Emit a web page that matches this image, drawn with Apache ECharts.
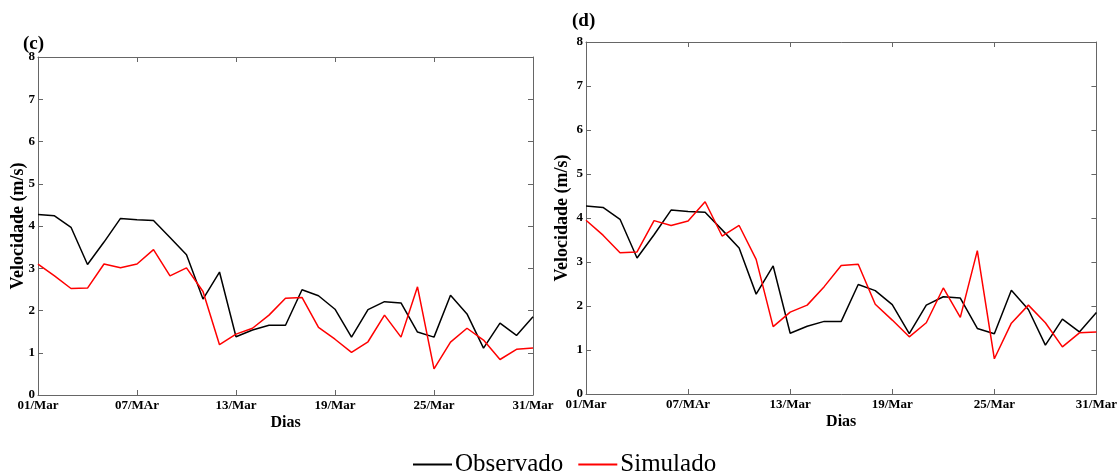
<!DOCTYPE html>
<html>
<head>
<meta charset="utf-8">
<script src="https://cdn.jsdelivr.net/npm/echarts@6/dist/echarts.min.js"></script>
<style>html,body{margin:0;padding:0;background:#fff}#c{width:1120px;height:472px}</style>
</head>
<body>
<div id="c"></div>
<script>
const days = ["01/Mar","02/Mar","03/Mar","04/Mar","05/Mar","06/Mar","07/MAr","08/Mar","09/Mar","10/Mar",
"11/Mar","12/Mar","13/Mar","14/Mar","15/Mar","16/Mar","17/Mar","18/Mar","19/Mar","20/Mar",
"21/Mar","22/Mar","23/Mar","24/Mar","25/Mar","26/Mar","27/Mar","28/Mar","29/Mar","30/Mar","31/Mar"];
const observado = [4.27,4.24,3.97,3.09,3.62,4.18,4.15,4.13,3.73,3.32,2.27,2.91,1.38,1.54,1.65,1.65,
2.49,2.35,2.03,1.37,2.02,2.21,2.18,1.49,1.37,2.36,1.92,1.11,1.70,1.41,1.85];
const simuladoC = [3.10,2.82,2.52,2.53,3.10,3.01,3.10,3.44,2.82,3.01,2.45,1.19,1.44,1.58,1.89,2.29,
2.31,1.60,1.32,1.01,1.26,1.89,1.37,2.56,0.62,1.25,1.58,1.30,0.84,1.08,1.11];
const simuladoD = [3.95,3.61,3.21,3.23,3.94,3.83,3.93,4.37,3.59,3.83,3.06,1.53,1.86,2.02,2.44,2.92,
2.95,2.04,1.68,1.30,1.62,2.41,1.74,3.26,0.80,1.61,2.02,1.62,1.07,1.39,1.41];
const panelTitles = ["(c)","(d)"];
const yName = "Velocidade (m/s)";
const xName = "Dias";

const serif = "'Liberation Serif','Times New Roman',serif";
const axisColor = '#666';
const grids = [
  {left:38, top:57, width:495, height:338},
  {left:586, top:42, width:513, height:352}
];
const yNameGaps = [11, 15];
const xAxes = [], yAxes = [];
grids.forEach((g, gi) => {
  xAxes.push({
    type:'category', gridIndex:gi, data:days, boundaryGap:false, position:'bottom',
    name:xName, nameLocation:'middle', nameGap:20, nameMoveOverlap:false,
    nameTextStyle:{fontFamily:serif, fontWeight:'bold', fontSize:16, color:'#000'},
    axisLine:{onZero:false, lineStyle:{color:axisColor, width:1}},
    axisTick:{inside:true, length:5, interval:5, lineStyle:{color:axisColor}},
    axisLabel:{interval:5, margin:4, fontFamily:serif, fontWeight:'bold', fontSize:13, color:'#000'},
    splitLine:{show:false}
  });
  xAxes.push({
    type:'category', gridIndex:gi, data:days, boundaryGap:false, position:'top',
    axisLine:{onZero:false, lineStyle:{color:axisColor, width:1}},
    axisTick:{inside:true, length:5, interval:5, lineStyle:{color:axisColor}},
    axisLabel:{show:false}, splitLine:{show:false}
  });
  yAxes.push({
    type:'value', gridIndex:gi, min:0, max:8, interval:1, position:'left',
    name:yName, nameLocation:'middle', nameGap: yNameGaps[gi], nameMoveOverlap:false,
    nameTextStyle:{fontFamily:serif, fontWeight:'bold', fontSize:18, color:'#000'},
    axisLine:{show:true, onZero:false, lineStyle:{color:axisColor, width:1}},
    axisTick:{show:true, inside:true, length:5, lineStyle:{color:axisColor}},
    axisLabel:{margin:3, fontFamily:serif, fontWeight:'bold', fontSize:13, color:'#000'},
    splitLine:{show:false}
  });
  yAxes.push({
    type:'value', gridIndex:gi, min:0, max:8, interval:1, position:'right',
    axisLine:{show:true, onZero:false, lineStyle:{color:axisColor, width:1}},
    axisTick:{show:true, inside:true, length:5, lineStyle:{color:axisColor}},
    axisLabel:{show:false}, splitLine:{show:false}
  });
});

const chart = echarts.init(document.getElementById('c'), null, {renderer:'canvas'});
chart.setOption({
  animation:false,
  backgroundColor:'#fff',
  title:[
    {text:panelTitles[0], left:18, top:30, textStyle:{fontFamily:serif, fontWeight:'bold', fontSize:19, color:'#000'}},
    {text:panelTitles[1], left:567, top:7, textStyle:{fontFamily:serif, fontWeight:'bold', fontSize:19, color:'#000'}}
  ],
  legend:{
    left:408, top:447, itemGap:15, itemWidth:39, itemHeight:2, icon:'rect',
    textStyle:{fontFamily:serif, fontSize:25, color:'#000', padding:[0,0,0,-2]},
    data:['Observado','Simulado']
  },
  grid:grids,
  xAxis:xAxes,
  yAxis:yAxes,
  series:[
    {name:'Observado', type:'line', xAxisIndex:0, yAxisIndex:0, data:observado, showSymbol:false, lineStyle:{color:'#000', width:1.5}, itemStyle:{color:'#000'}},
    {name:'Simulado', type:'line', xAxisIndex:0, yAxisIndex:0, data:simuladoC, showSymbol:false, lineStyle:{color:'#ff0000', width:1.5}, itemStyle:{color:'#ff0000'}},
    {name:'Observado', type:'line', xAxisIndex:2, yAxisIndex:2, data:observado, showSymbol:false, lineStyle:{color:'#000', width:1.5}, itemStyle:{color:'#000'}},
    {name:'Simulado', type:'line', xAxisIndex:2, yAxisIndex:2, data:simuladoD, showSymbol:false, lineStyle:{color:'#ff0000', width:1.5}, itemStyle:{color:'#ff0000'}}
  ]
});
</script>
</body>
</html>
